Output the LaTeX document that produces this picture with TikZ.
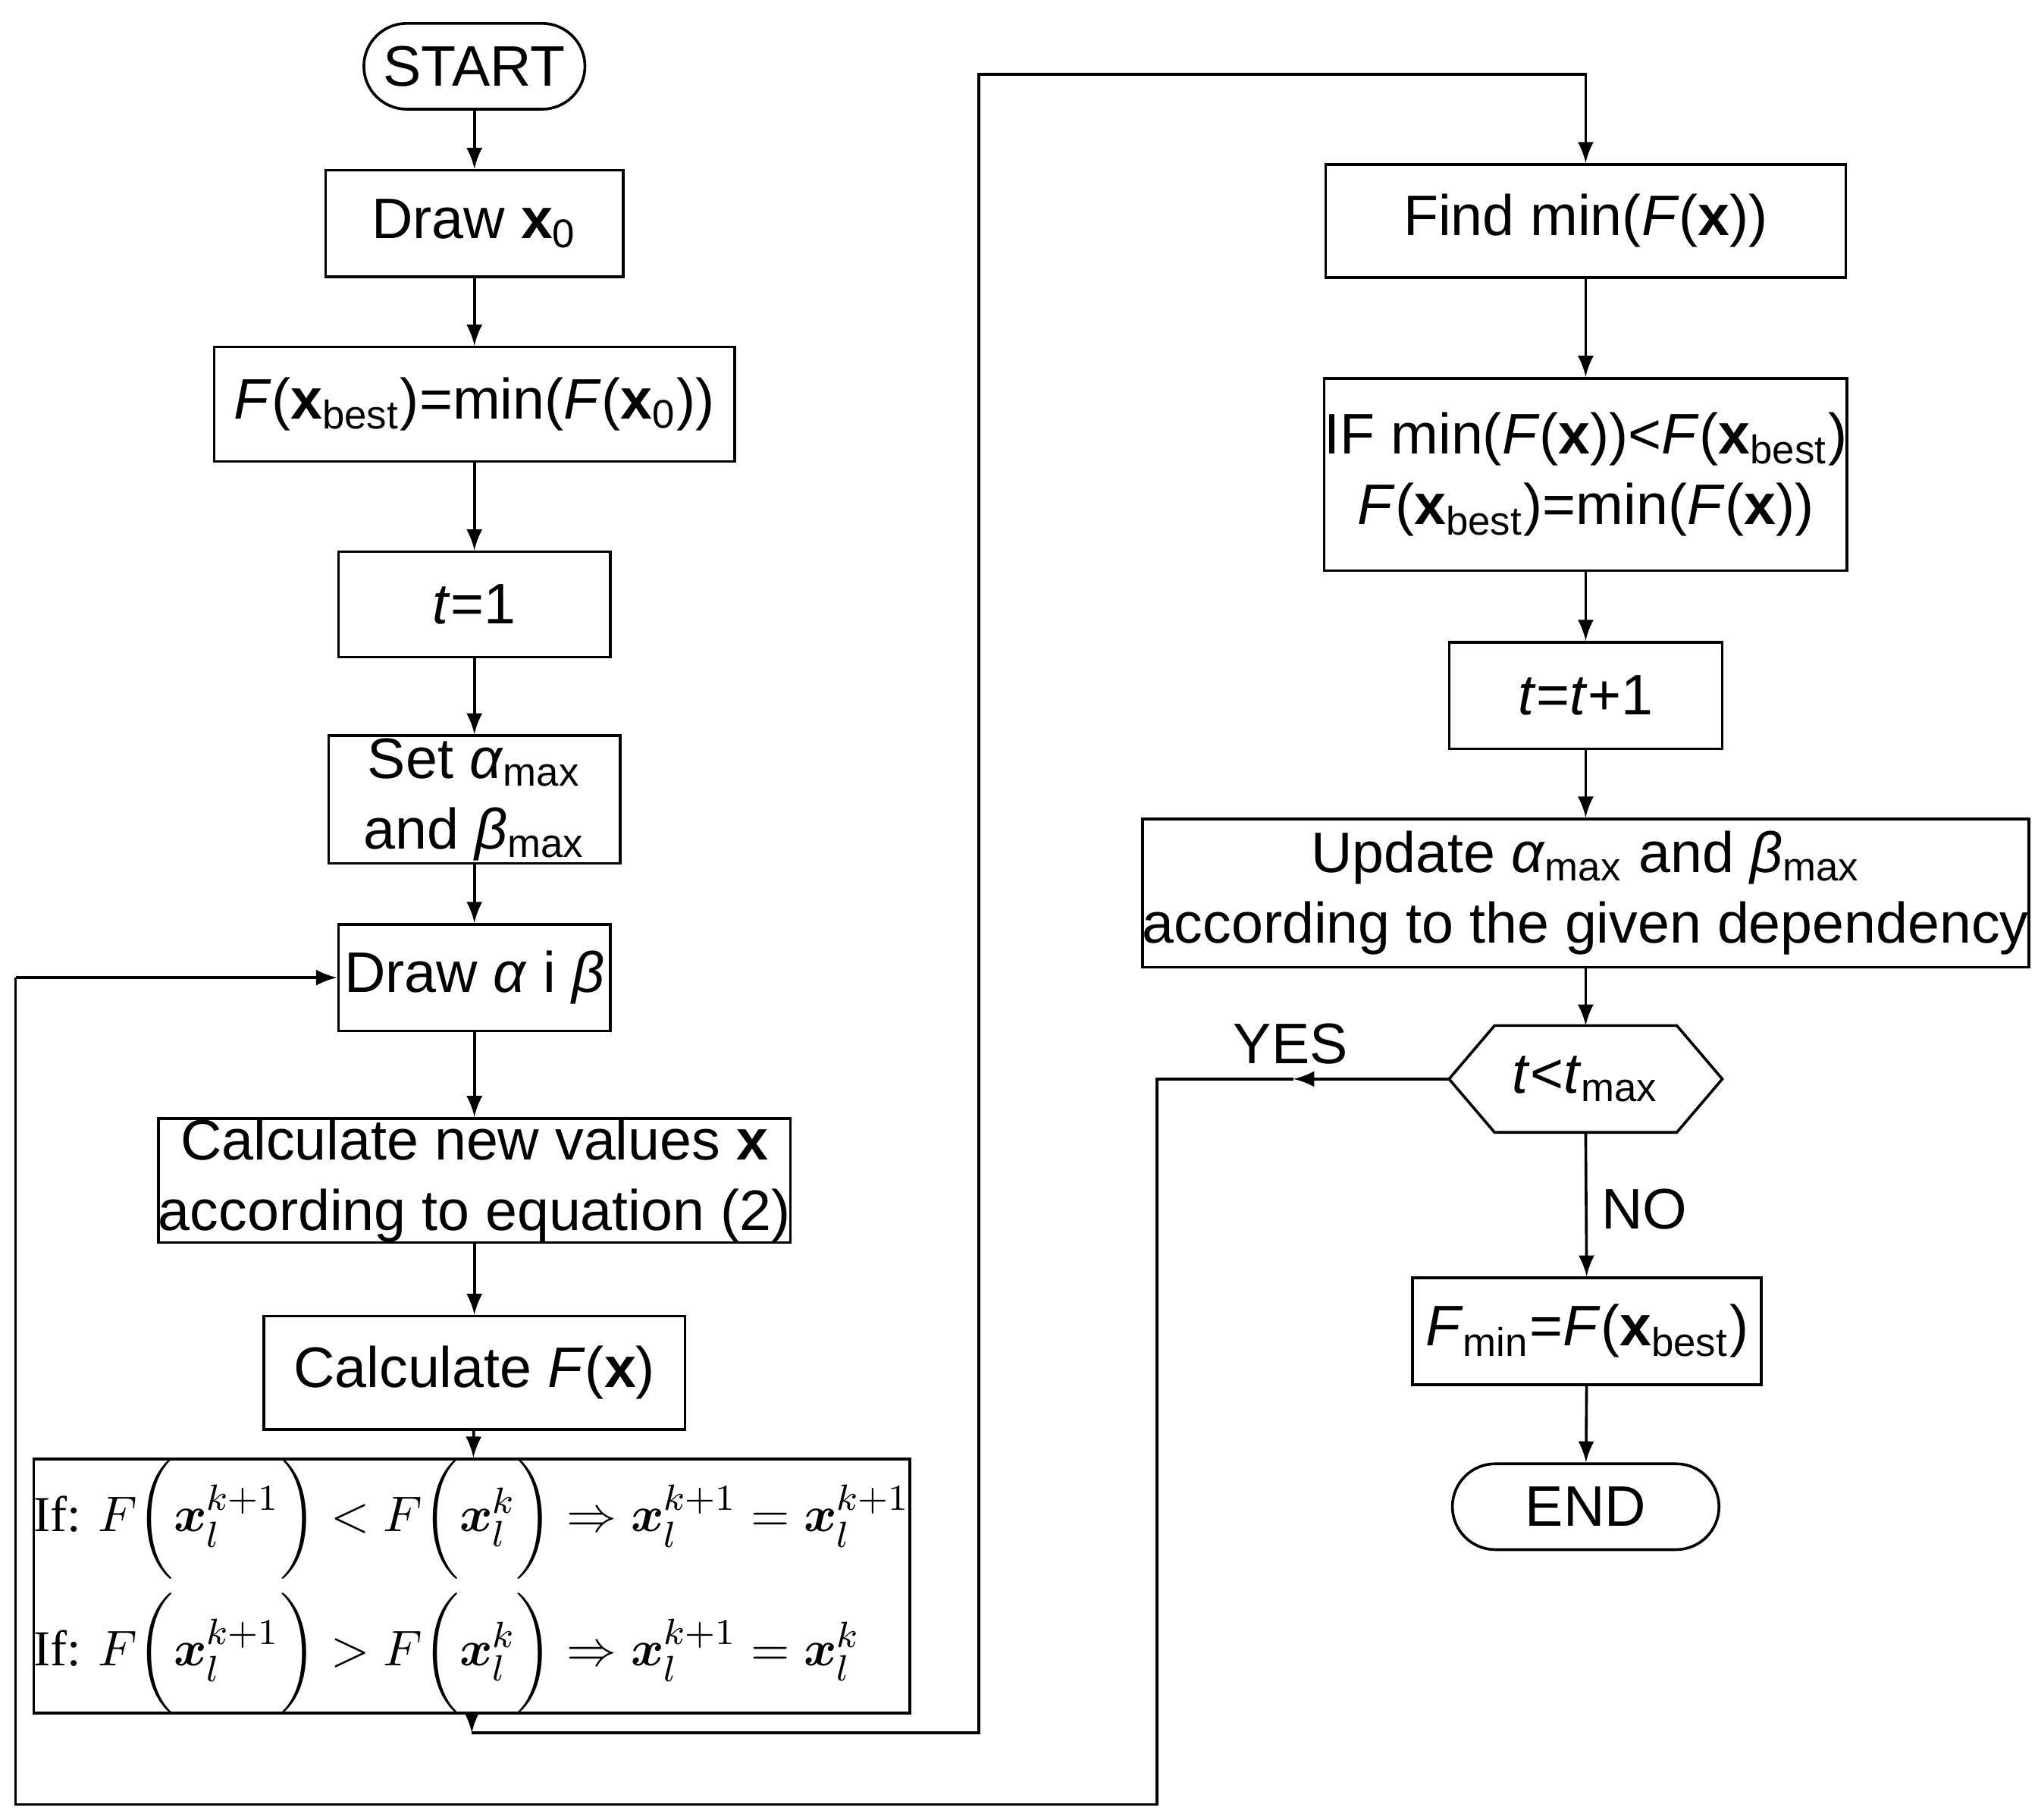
\documentclass[tikz,border=0pt]{standalone}
\usepackage{amsmath}
\usepackage{fontspec}
\setmainfont{Liberation Sans}
\newfontfamily\serif{Liberation Serif}
\usetikzlibrary{calc}
\tikzset{
  box/.style={draw,semithick,align=center,font=\fontsize{12.5}{15.5}\selectfont,inner sep=0pt},
  term/.style={box,rounded corners=0.33cm},
  flow/.style={semithick,-latex}
}
\newcommand{\bx}{\textbf{x}}
\newcommand{\lo}[1]{\textsubscript{#1}}
\begin{document}
\begin{tikzpicture}[x=0.01cm,y=-0.01cm]
    \useasboundingbox (0,0) rectangle (1568,1400);
    % left column
    \node[term,minimum width=1.70cm,minimum height=0.66cm] (start) at (365,51) {START};
    \node[box,minimum width=2.29cm,minimum height=0.82cm] (draw0) at (365,172) {Draw \bx\lo{0}};
    \node[box,minimum width=4.00cm,minimum height=0.88cm] (best) at (365,311) {\textit{F}(\bx\lo{best})=min(\textit{F}(\bx\lo{0}))};
    \node[box,minimum width=2.09cm,minimum height=0.81cm] (tone) at (365,465) {\textit{t}=1};
    \node[box,minimum width=2.24cm,minimum height=0.98cm] (setab) at (365,615) {Set \textit{α}\lo{max}\\and \textit{β}\lo{max}};
    \node[box,minimum width=2.09cm,minimum height=0.82cm] (drawab) at (365,752) {Draw \textit{α} i \textit{β}};
    \node[box,minimum width=4.72cm,minimum height=0.95cm] (calcx) at (365,908) {Calculate new values \bx\\according to equation (2)};
    \node[box,minimum width=3.24cm,minimum height=0.87cm] (calcf) at (365,1056) {Calculate \textit{F}(\bx)};
    \node[box,minimum width=5.91cm,minimum height=1.61cm,font=\serif\fontsize{11}{14}\selectfont,align=left] (ifbox) at (363,1220)
      {If: $F\biggl(\boldsymbol{x}_l^{k+1}\biggr)<F\biggl(\boldsymbol{x}_l^{k}\biggr)\Rightarrow\boldsymbol{x}_l^{k+1}=\boldsymbol{x}_l^{k+1}$\\[2pt]
       If: $F\biggl(\boldsymbol{x}_l^{k+1}\biggr)>F\biggl(\boldsymbol{x}_l^{k}\biggr)\Rightarrow\boldsymbol{x}_l^{k+1}=\boldsymbol{x}_l^{k}$};
    % right column
    \node[box,minimum width=4.00cm,minimum height=0.87cm] (findmin) at (1220,170) {Find min(\textit{F}(\bx))};
    \node[box,minimum width=4.00cm,minimum height=1.48cm] (ifmin) at (1220,365) {IF min(\textit{F}(\bx))<\textit{F}(\bx\lo{best})\\\textit{F}(\bx\lo{best})=min(\textit{F}(\bx))};
    \node[box,minimum width=2.10cm,minimum height=0.82cm] (tinc) at (1220,535) {\textit{t}=\textit{t}+1};
    \node[box,minimum width=6.67cm,minimum height=1.14cm] (update) at (1220,687) {Update \textit{α}\lo{max} and \textit{β}\lo{max}\\according to the given dependency};
    \node[box,draw=none,minimum width=2.08cm,minimum height=0.80cm] (dec) at (1220,830) {\textit{t}<\textit{t}\lo{max}};
    \draw[semithick] (dec.west) -- ($(dec.north west)+(35,0)$) -- ($(dec.north east)+(-35,0)$) -- (dec.east)
      -- ($(dec.south east)+(-35,0)$) -- ($(dec.south west)+(35,0)$) -- cycle;
    \node[box,minimum width=2.68cm,minimum height=0.82cm] (fmin) at (1221,1024) {\textit{F}\lo{min}=\textit{F}(\bx\lo{best})};
    \node[term,minimum width=2.05cm,minimum height=0.66cm] (stop) at (1220,1159) {END};
    \node[font=\fontsize{12.5}{15.5}\selectfont] (yes) at (993,803) {YES};
    \node[font=\fontsize{12.5}{15.5}\selectfont] (no) at (1265,930) {NO};
    % connectors
    \draw[flow] (start) -- (draw0);
    \draw[flow] (draw0) -- (best);
    \draw[flow] (best) -- (tone);
    \draw[flow] (tone) -- (setab);
    \draw[flow] (setab) -- (drawab);
    \draw[flow] (drawab) -- (calcx);
    \draw[flow] (calcx) -- (calcf);
    \draw[flow] (calcf) -- (ifbox);
    \coordinate (c1) at (363,1333);
    \draw[flow] (ifbox) -- (c1);
    \draw[flow] (c1) -- (753,1333) -- (753,57) -- (1220,57) -- (findmin);
    \draw[flow] (findmin) -- (ifmin);
    \draw[flow] (ifmin) -- (tinc);
    \draw[flow] (tinc) -- (update);
    \draw[flow] (update) -- (dec.north);
    \draw[flow] (dec.south) -- (fmin);
    \draw[flow] (fmin) -- (stop);
    \coordinate (c2) at (995,830);
    \draw[flow] (dec.west) -- (c2);
    \draw[semithick] (c2) -- (890,830) -- (890,1388) -- (12,1388) -- (12,752);
    \draw[flow] (12,752) -- (drawab);
\end{tikzpicture}
\end{document}
